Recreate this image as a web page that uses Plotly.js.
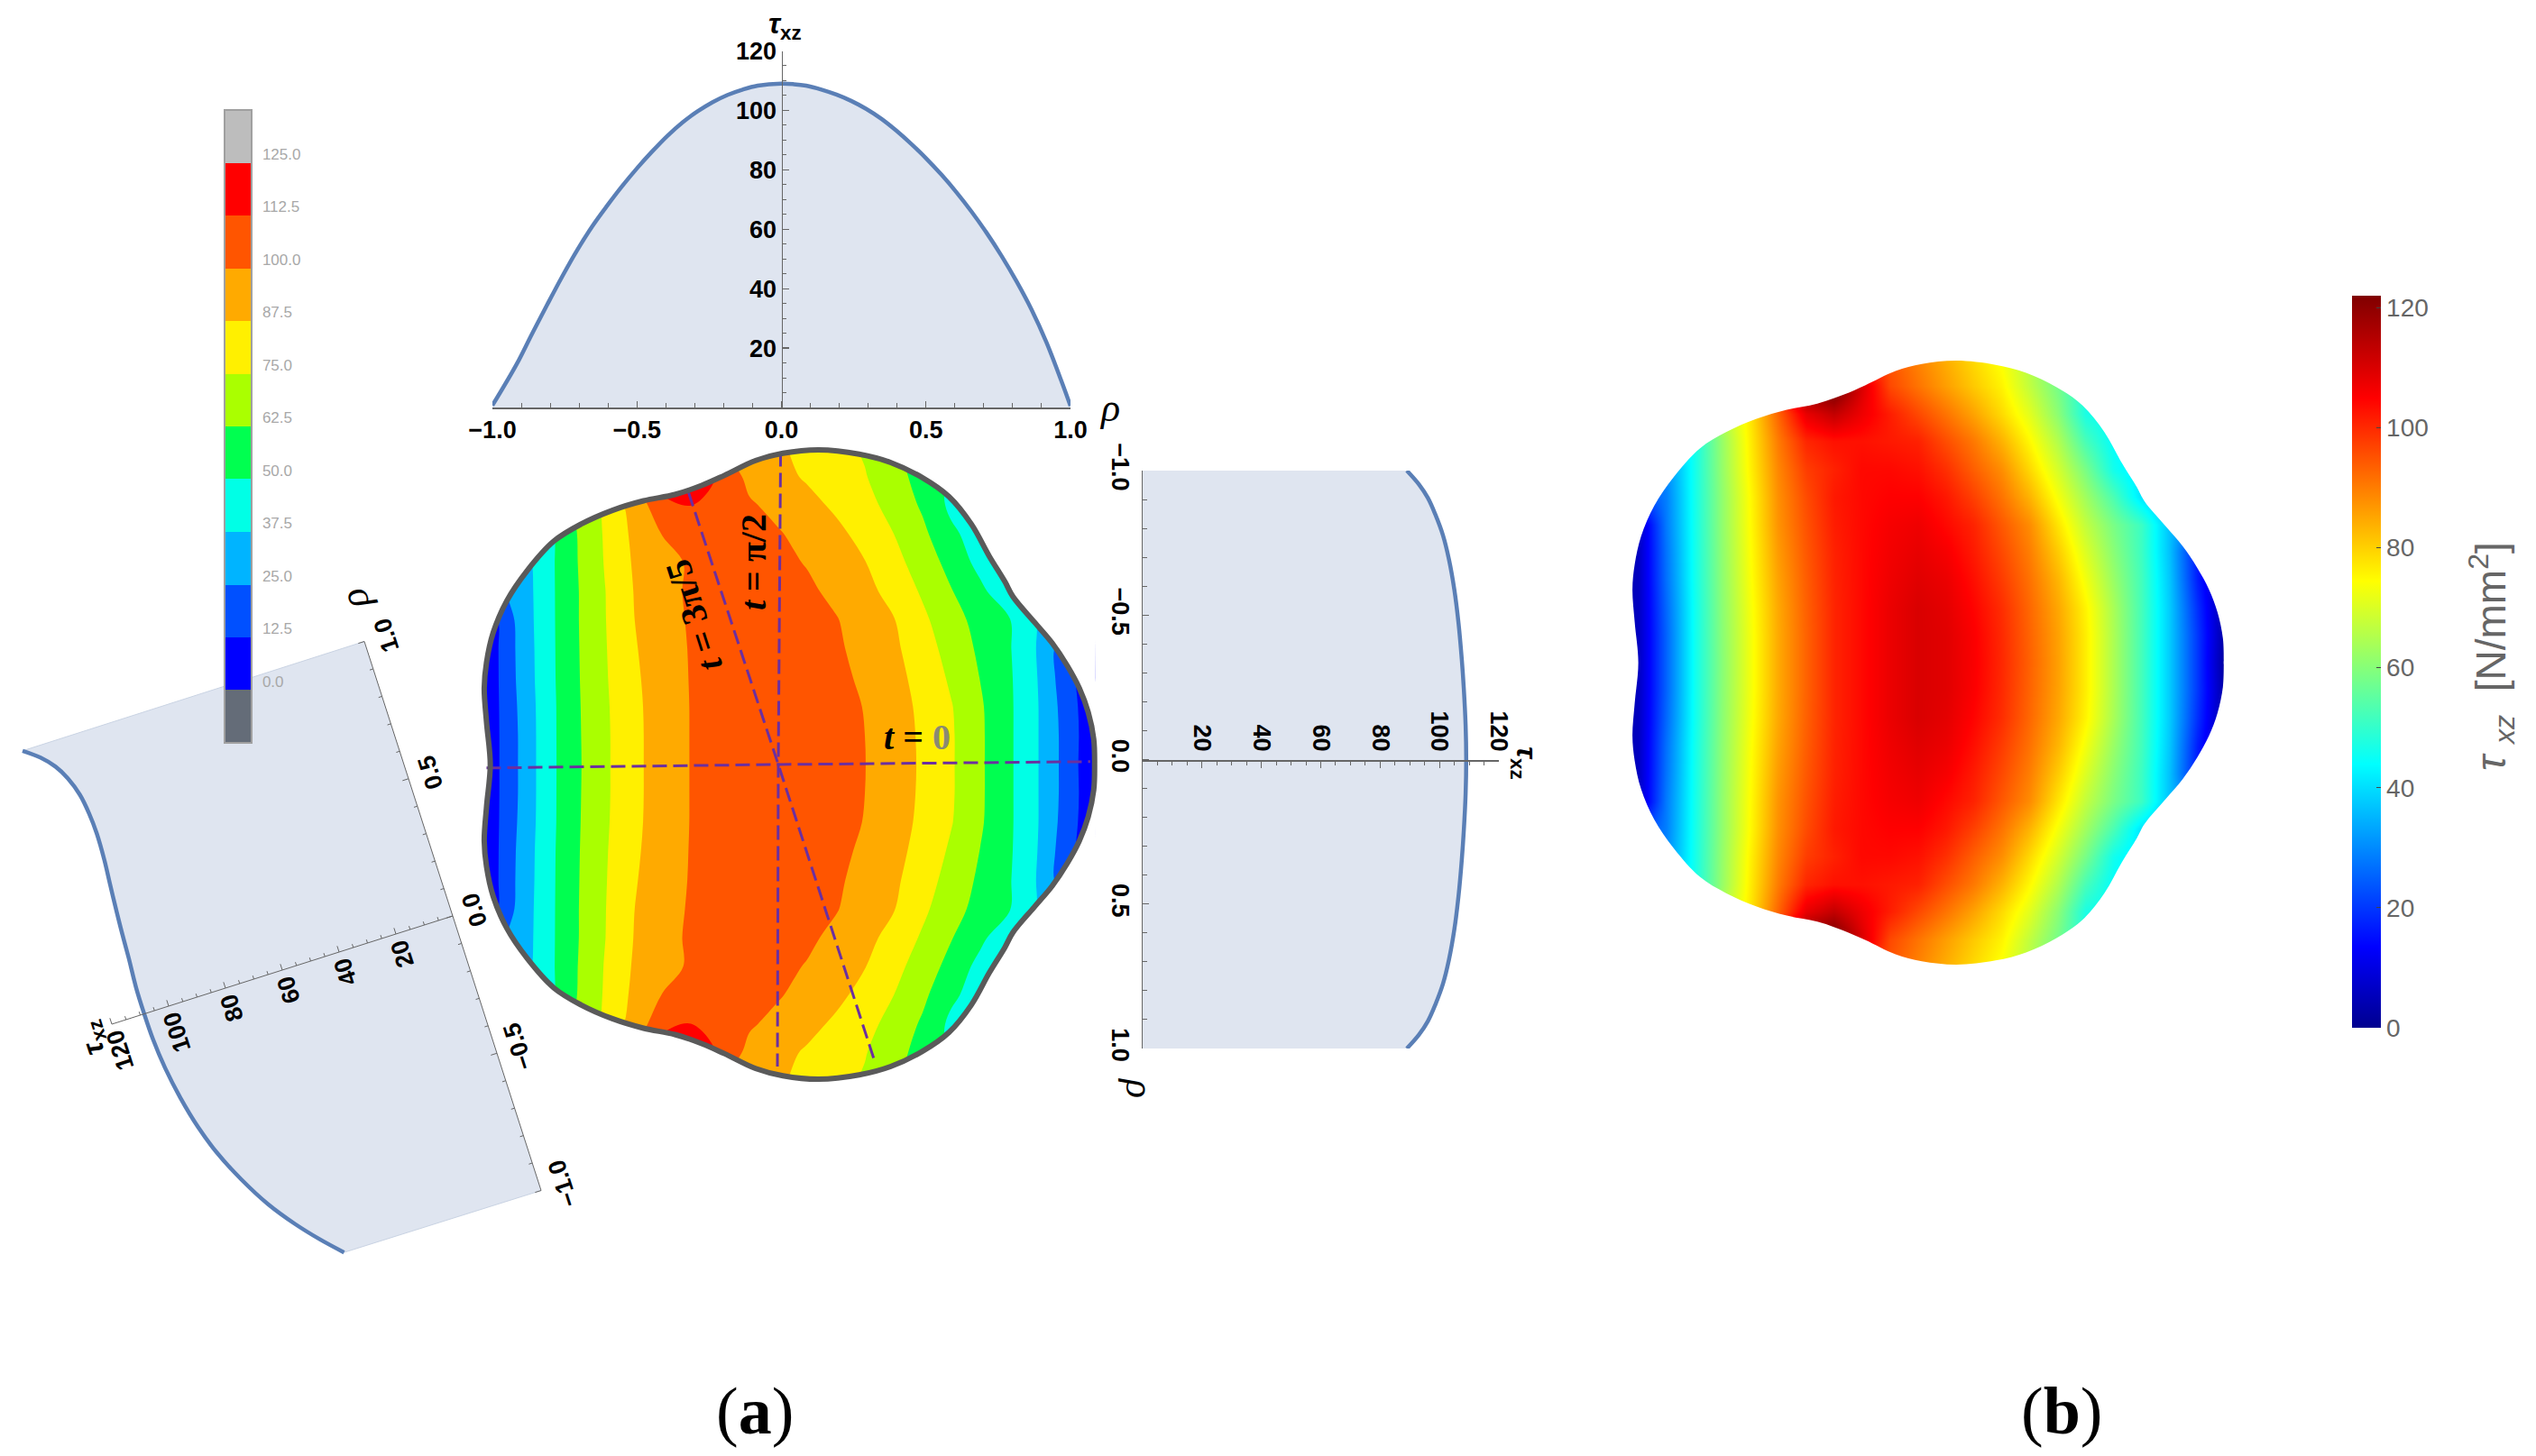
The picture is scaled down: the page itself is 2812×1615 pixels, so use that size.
<!DOCTYPE html>
<html>
<head>
<meta charset="utf-8">
<script src="https://cdn.plot.ly/plotly-3.0.1.min.js"></script>
<style>html,body{margin:0;padding:0;background:#fff}</style>
</head>
<body>
<div id="chart" style="width:2812px;height:1615px"></div>
<script>
// ---------- data ----------
var rhoTop = [-1,-0.916,-0.864,-0.811,-0.759,-0.707,-0.655,-0.603,-0.551,-0.499,-0.447,-0.395,-0.343,-0.291,-0.239,-0.186,-0.134,-0.082,0,0.043,0.085,0.138,0.19,0.241,0.293,0.345,0.397,0.449,0.501,0.553,0.605,0.657,0.709,0.761,0.813,0.865,0.917,0.969,1];
var tauTop = [0.7,14.6,24.6,34.5,44,52.9,60.9,67.9,74.5,80.6,86.2,91.4,95.9,99.6,102.7,105.2,107,108.3,109,108.8,108.3,107,105.3,103.2,100.5,97.2,93.2,88.7,83.8,78.4,72.5,66,58.9,51.1,42.5,33,21.9,8.8,0.5];

var rhoRight = [-1,-0.952,-0.905,-0.848,-0.775,-0.692,-0.588,-0.473,-0.348,-0.244,-0.119,0,0.119,0.244,0.348,0.473,0.588,0.692,0.775,0.848,0.905,0.952,1];
var tauRight = [89,93.1,96.1,98.6,101.2,103.2,105,106.4,107.5,108.2,108.8,109,108.8,108.2,107.5,106.4,105,103.2,101.2,98.6,96.1,93.1,89];

var rhoLeft = [0.997,0.956,0.91,0.859,0.791,0.721,0.647,0.551,0.462,0.368,0.285,0.202,0.095,0.004,-0.093,-0.2,-0.314,-0.432,-0.534,-0.647,-0.759,-0.853,-0.928,-0.998];
var tauLeft = [120.4,115.4,111.5,108.8,106.6,105.6,105.2,105.5,106.2,106.9,107.4,107.8,108.5,108.6,108.4,107.5,105.7,103,99.7,94.7,88.6,82,75.8,69.3];

var rhoTicks = [-1,-0.5,0,0.5,1];
var rhoLabels = ['−1.0','−0.5','0.0','0.5','1.0'];
var rhoMinor = [-0.9,-0.8,-0.7,-0.6,-0.4,-0.3,-0.2,-0.1,0.1,0.2,0.3,0.4,0.6,0.7,0.8,0.9];
var tauTicks = [20,40,60,80,100,120];
var tauMinor = [5,10,15,25,30,35,45,50,55,65,70,75,85,90,95,105,110,115];

// stress over the section: columns at xGrid, rows at yHalf (mirrored below y = 0)
var xGrid = [-1.1,-1,-0.9,-0.8,-0.7,-0.6,-0.5,-0.4,-0.3,-0.2,-0.1,0,0.1,0.2,0.3,0.4,0.5,0.6,0.7,0.8,0.9,1,1.1];
var yHalf = [0,0.1,0.2,0.3,0.4,0.5,0.6,0.7,0.8,0.9,1,1.1];
var zRow0 = [2,6,25.4,45.3,60.2,72.9,84.6,93.2,100.6,104,107.5,110,109,105.5,100.2,93.3,85.9,76.3,64.4,52.1,37.8,20,1];
var zRow1 = [2,6,25.4,45.3,60.4,72.9,84.6,93.2,100.6,104,107.5,110,109,105.3,100,93,85.7,76.3,64.4,52.1,37.8,20,2];
var zRow2 = [2,6,26,45.3,60.6,73.2,84.8,93.4,100.6,104,107.5,110,108.5,104.5,99.5,92.5,85,75.6,64,52.1,37.8,19,2];
var zRow3 = [2,6,27,45.7,60.9,73.8,85.5,93.8,100.8,104,107,109,107.5,103.2,97.8,91.3,83.3,73,62.2,51.8,37.2,16.8,2];
var zRow4 = [2,6,27.4,45.8,61.1,74.2,86.4,94.4,101,104,106.5,108,106,101.8,96.2,89.8,80.7,70.2,60.3,51.1,36.5,16,2];
var zRow5 = [2,6,28.2,45.9,61.3,74.6,87.3,95.1,101.5,104,106,107,104,100.7,94.4,88.1,77.6,67.1,58.4,50.9,36.6,25,5];
var zRow6 = [10,20,28.7,46,61.3,74.8,87.8,95.9,102,104,105,105,102.2,97.2,91.1,83.4,73.4,63.1,52.9,40.7,34,25,10];
var zRow7 = [10,20,30,46,61.8,75.8,88.8,97.6,101,104,104,103,99.3,93.5,87.9,78.9,69.3,58.3,46,40,33,25,10];
var zRow8 = [15,25,35,46,62,76.4,90.2,100.4,103,103,102,101,95.7,90.4,83.6,75,65.2,52.4,44,40,33,25,10];
var zRow9 = [30,35,40,50,65,77.2,92.9,108,113,107,101.5,96.3,91.1,85.4,78.8,70.9,60.7,47,44,40,33,25,15];
var zRow10 = [30,35,40,50,65,85,100,122,125,110,96.3,91.1,86,80.8,75.7,66.9,58,47,44,40,33,25,15];
var zRow11 = [30,35,40,50,65,85,100,122,125,100,94.5,89.1,84,78.7,73.5,65,55,47,44,40,33,25,15];

// upper half of the section outline, from t = 0 to t = pi
var outlineX = [1.096,1.093,1.074,1.043,1.001,0.949,0.887,0.813,0.785,0.731,0.669,0.591,0.498,0.389,0.28,0.14,0.016,-0.078,-0.187,-0.264,-0.358,-0.467,-0.575,-0.684,-0.778,-0.871,-0.941,-0.988,-1.011,-1.019,-1.011,-0.998];
var outlineY = [0,0.088,0.181,0.265,0.343,0.421,0.494,0.582,0.634,0.722,0.833,0.929,0.995,1.047,1.076,1.091,1.079,1.054,1.002,0.968,0.936,0.914,0.881,0.833,0.774,0.671,0.567,0.457,0.354,0.265,0.147,0];

// dashed section lines
var rayT0X = [-1.011,0,1.081];      var rayT0Y = [-0.012,0,0.01];
var rayHalfX = [0.008,0,-0.003];    var rayHalfY = [1.083,0,-1.047];
var ray35X = [-0.311,0,0.334];      var ray35Y = [0.943,0,-1.029];

// discrete legend of panel (a)
var levelValues = [0,12.5,25,37.5,50,62.5,75,87.5,100,112.5,125];
var levelLabels = ['0.0','12.5','25.0','37.5','50.0','62.5','75.0','87.5','100.0','112.5','125.0'];
var bandColors = ['#646c78','#0000ff','#0050ff','#00b4ff','#00ffe6','#00ff50','#aaff00','#fff000','#ffaa00','#ff5500','#ff0000','#bdbdbd'];

// ---------- layout helpers ----------
var W = 2812, H = 1615;
function fx(p){return p/W;}
function fy(p){return 1-p/H;}
var FILL='#dfe5f0', CURVE='#5a7fb6', AXC='#666666', SANS='"Liberation Sans",Arial,sans-serif', SERIF='"Liberation Serif",serif';
var tickFont={family:SANS,size:27,color:'#000',weight:600};

// full section field
var zRows=[zRow0,zRow1,zRow2,zRow3,zRow4,zRow5,zRow6,zRow7,zRow8,zRow9,zRow10,zRow11];
var yGrid=yHalf.slice(1).reverse().map(function(v){return -v;}).concat(yHalf);
var zGrid=zRows.slice(1).reverse().concat(zRows);

// closed outline, and a white keyhole mask round it (hole wound against the rectangle)
var closedX=outlineX.concat(outlineX.slice(0,-1).reverse());
var closedY=outlineY.concat(outlineY.slice(0,-1).reverse().map(function(v){return -v;}));
var holeX=closedX.slice().reverse(), holeY=closedY.slice().reverse();
var seam=0.008;
function keyholeX(M){var e=0.01;return [M,M,M,M-e,-M+e,-M,-M,-M,-M,-M+e,M-e,M,M,M,holeX[0]+0.01,holeX[0],holeX[0]]
  .concat(holeX.slice(1,-1)).concat([holeX[0],holeX[0],holeX[0]+0.01,M]);}
function keyholeY(M){var e=0.01;return [0,M-e,M,M,M,M,M-e,-M+e,-M,-M,-M,-M,-M+e,0,0,0,-seam]
  .concat(holeY.slice(1,-1)).concat([seam,0,0,0]);}
function maskTrace(M,xa,ya){return {x:keyholeX(M),y:keyholeY(M),xaxis:xa,yaxis:ya,mode:'lines',line:{width:0,color:'#fff',shape:'spline',simplify:false},fill:'toself',fillcolor:'#fff',hoverinfo:'skip',showlegend:false};}

// left (rotated) panel: page position of (rho, tau)
var L0=[502,1016], LR=[-98,-304.5], LT=[-3.15,1.0], LANG=-107.8;
function lx(r,t){return L0[0]+r*LR[0]+t*LT[0];}
function ly(r,t){return L0[1]+r*LR[1]+t*LT[1];}
var lTickX=[],lTickY=[];
function lRhoTick(r,len){var n=len/3.3;lTickX.push(lx(r,0),lx(r,n),null);lTickY.push(ly(r,0),ly(r,n),null);}
function lTauTick(t,len){var n=len/320;lTickX.push(lx(0,t),lx(n,t),null);lTickY.push(ly(0,t),ly(n,t),null);}
rhoTicks.forEach(function(r){lRhoTick(r,7);});
rhoMinor.forEach(function(r){lRhoTick(r,4);});
tauTicks.forEach(function(t){lTauTick(t,7);});
tauMinor.forEach(function(t){lTauTick(t,4);});
var leftCurveX=rhoLeft.map(function(r,i){return lx(r,tauLeft[i]);});
var leftCurveY=rhoLeft.map(function(r,i){return ly(r,tauLeft[i]);});

// stepped scale for the legend of (a): one equal step per band
var stepScale=[];
bandColors.forEach(function(c,i){stepScale.push([i/bandColors.length,c],[(i+1)/bandColors.length,c]);});

var traces=[
 // top panel
 {x:rhoTop,y:tauTop,xaxis:'x',yaxis:'y',mode:'lines',line:{color:CURVE,width:4.5,shape:'spline'},fill:'tozeroy',fillcolor:FILL,hoverinfo:'skip',cliponaxis:false},
 // right panel
 {x:tauRight,y:rhoRight,xaxis:'x2',yaxis:'y2',mode:'lines',line:{color:CURVE,width:4.5,shape:'spline'},fill:'tozerox',fillcolor:FILL,hoverinfo:'skip',cliponaxis:true},
 // legend carrier of (a): a central cell of the field, lying under the contours
 {type:'heatmap',x:[-0.05,0.05],y:[-0.05,0.05],z:[[zRow0[11],zRow0[11]],[zRow0[11],zRow0[11]]],xaxis:'x3',yaxis:'y3',zmin:-12.5,zmax:137.5,colorscale:stepScale,
  colorbar:{x:fx(249),xanchor:'left',xpad:0,ypad:0,y:fy(824),yanchor:'bottom',lenmode:'pixels',len:702,thicknessmode:'pixels',thickness:30,
    tickmode:'array',tickvals:levelValues.map(function(v){return v+2.1;}),ticktext:levelLabels,ticks:'outside',ticklen:8,tickcolor:'rgba(0,0,0,0)',
    tickfont:{family:SANS,size:17,color:'#a8a8a8'},outlinecolor:'#a0a0a0',outlinewidth:2,borderwidth:0},
  hoverinfo:'skip'},
 // panel (a) contours
 {type:'contour',x:xGrid,y:yGrid,z:zGrid,xaxis:'x3',yaxis:'y3',autocontour:false,showscale:false,
  contours:{start:0,end:125,size:12.5,coloring:'fill',showlines:false},line:{width:0},
  colorscale:bandColors.map(function(c,i){return [i/(bandColors.length-1),c];}),
  hoverinfo:'skip'},
 maskTrace(1.105,'x3','y3'),
 {x:rayT0X,y:rayT0Y,xaxis:'x3',yaxis:'y3',mode:'lines',line:{color:'#6b2fa0',width:3,dash:'16px,7px'},hoverinfo:'skip'},
 {x:rayHalfX,y:rayHalfY,xaxis:'x3',yaxis:'y3',mode:'lines',line:{color:'#6b2fa0',width:3,dash:'16px,7px'},hoverinfo:'skip'},
 {x:ray35X,y:ray35Y,xaxis:'x3',yaxis:'y3',mode:'lines',line:{color:'#6b2fa0',width:3,dash:'16px,7px'},hoverinfo:'skip'},
 {x:closedX,y:closedY,xaxis:'x3',yaxis:'y3',mode:'lines',line:{color:'#5a5a5a',width:6,shape:'spline'},hoverinfo:'skip'},
 // left rotated panel
 {x:[lx(1,0)].concat(leftCurveX).concat([lx(-1,0)]),y:[ly(1,0)].concat(leftCurveY).concat([ly(-1,0)]),xaxis:'x4',yaxis:'y4',mode:'lines',
  line:{color:'#c9d3e3',width:1},fill:'toself',fillcolor:FILL,hoverinfo:'skip'},
 {x:leftCurveX,y:leftCurveY,xaxis:'x4',yaxis:'y4',mode:'lines',line:{color:CURVE,width:4.5,shape:'spline'},hoverinfo:'skip'},
 {x:[lx(0,0),lx(0,120)],y:[ly(0,0),ly(0,120)],xaxis:'x4',yaxis:'y4',mode:'lines',line:{color:AXC,width:1},hoverinfo:'skip'},
 {x:[lx(1,0),lx(-1,0)],y:[ly(1,0),ly(-1,0)],xaxis:'x4',yaxis:'y4',mode:'lines',line:{color:AXC,width:1},hoverinfo:'skip'},
 {x:lTickX,y:lTickY,xaxis:'x4',yaxis:'y4',mode:'lines',line:{color:AXC,width:1},hoverinfo:'skip'},
 // panel (b)
 {type:'heatmap',x:xGrid,y:yGrid,z:zGrid,xaxis:'x5',yaxis:'y5',zmin:0,zmax:122,zsmooth:'best',
  colorscale:[[0,'#00008f'],[0.11,'#0000ff'],[0.36,'#00ffff'],[0.61,'#ffff00'],[0.86,'#ff0000'],[1,'#800000']],
  colorbar:{x:fx(2608),xanchor:'left',xpad:0,ypad:0,y:fy(1140),yanchor:'bottom',lenmode:'pixels',len:812,thicknessmode:'pixels',thickness:32,
    tickmode:'array',tickvals:[0,20,40,60,80,100,120],ticks:'inside',ticklen:5,tickcolor:'#444',
    tickfont:{family:SANS,size:28,color:'#666'},outlinewidth:0,borderwidth:0},
  hoverinfo:'skip'},
 maskTrace(1.19,'x5','y5')
];

function ann(text,x,y,size,angle,extra){
  var a={text:text,x:x,y:y,xref:'x4',yref:'y4',showarrow:false,xanchor:'center',yanchor:'middle',textangle:angle||0,
    font:{family:SANS,size:size,color:'#000'}};
  for(var k in extra||{}){a[k]=extra[k];}
  return a;
}
var annotations=[];
// left panel tick labels
rhoTicks.forEach(function(r,i){
  annotations.push(ann(rhoLabels[i],lx(r,0)+24,ly(r,0)-7,27,LANG,{font:tickFont}));
});
tauTicks.forEach(function(t){
  var off=(8+String(t).length*7.5)/320;
  annotations.push(ann(String(t),lx(-off,t),ly(-off,t),27,LANG,{font:tickFont}));
});
var txzHtml='<i>τ</i><sub><b>xz</b></sub>';
var txzFont={family:SANS,size:32,color:'#000',weight:600};
var rhoFont={family:SERIF,size:44,color:'#000'};
annotations.push(ann('<i>ρ</i>',393,666,44,LANG,{font:rhoFont}));
annotations.push(ann(txzHtml,102,1152,32,LANG,{font:txzFont}));
// top panel titles
annotations.push(ann(txzHtml,870,28,32,0,{font:txzFont}));
annotations.push(ann('<i>ρ</i>',1230,452,44,0,{font:rhoFont}));
// right panel titles
annotations.push(ann(txzHtml,1691,846,32,90,{font:txzFont}));
annotations.push(ann('<i>ρ</i>',1264,1206,44,90,{font:rhoFont}));
// section labels
var lab={family:SERIF,size:40,color:'#000',weight:700};
annotations.push(ann('<i>t</i> = <span style="color:#8a8a72">0</span>',1017,817,40,0,{font:lab}));
annotations.push(ann('<i>t</i> = π/2',835,624,40,-90,{font:lab}));
annotations.push(ann('<i>t</i> = 3π/5',769,683,40,LANG,{font:lab}));
// panel letters
annotations.push(ann('(<b>a</b>)',837,1565,74,0,{font:{family:SERIF,size:74,color:'#000'}}));
annotations.push(ann('(<b>b</b>)',2286,1565,74,0,{font:{family:SERIF,size:74,color:'#000'}}));
// colour bar title of (b)
annotations.push(ann('<i>τ</i> <sub><i>xz</i></sub>  [N/mm<sup>2</sup>]',2762,728,46,-90,{font:{family:SANS,size:46,color:'#666'}}));

var off={visible:false,showgrid:false,zeroline:false,fixedrange:true};
var layout={
  width:W,height:H,margin:{l:0,r:0,t:0,b:0},paper_bgcolor:'#fff',plot_bgcolor:'rgba(0,0,0,0)',showlegend:false,annotations:annotations,
  // top
  xaxis:{domain:[fx(546),fx(1187)],range:[-1,1],anchor:'y',side:'bottom',tickmode:'array',tickvals:rhoTicks,ticktext:rhoLabels,
    ticks:'inside',ticklen:7,tickwidth:1.2,tickcolor:AXC,showline:true,linecolor:AXC,linewidth:1.5,showgrid:false,zeroline:false,tickfont:tickFont,
    minor:{tickmode:'array',tickvals:rhoMinor,ticks:'inside',ticklen:5,tickcolor:AXC,tickwidth:1,showgrid:false}},
  yaxis:{domain:[fy(452),fy(56.5)],range:[0,120],anchor:'free',position:fx(866.5),side:'left',tickmode:'array',tickvals:tauTicks,
    ticks:'inside',ticklen:7,tickwidth:1.2,tickcolor:AXC,showline:true,linecolor:AXC,linewidth:1.5,showgrid:false,zeroline:false,tickfont:tickFont,
    minor:{tickmode:'array',tickvals:tauMinor,ticks:'inside',ticklen:4,tickcolor:AXC,tickwidth:1,showgrid:false}},
  // right
  xaxis2:{domain:[fx(1267),fx(1662)],range:[0,120],anchor:'free',position:fy(843),side:'top',tickmode:'array',tickvals:tauTicks,tickangle:90,
    ticks:'inside',ticklen:7,tickwidth:1.2,tickcolor:AXC,showline:true,linecolor:AXC,linewidth:1.5,showgrid:false,zeroline:false,tickfont:tickFont,
    minor:{tickmode:'array',tickvals:tauMinor,ticks:'inside',ticklen:4,tickcolor:AXC,tickwidth:1,showgrid:false}},
  yaxis2:{domain:[fy(1163),fy(522)],range:[1,-1],anchor:'x2',side:'left',tickmode:'array',tickvals:rhoTicks,ticktext:rhoLabels,tickangle:90,
    ticks:'inside',ticklen:7,tickwidth:1.2,tickcolor:AXC,showline:true,linecolor:AXC,linewidth:1.5,showgrid:false,zeroline:false,tickfont:tickFont,
    minor:{tickmode:'array',tickvals:rhoMinor,ticks:'inside',ticklen:5,tickcolor:AXC,tickwidth:1,showgrid:false}},
  // main section: 320 px per unit, centred at (863, 848)
  xaxis3:Object.assign({domain:[fx(863-416),fx(863+416)],range:[-1.3,1.3],anchor:'y3'},off),
  yaxis3:Object.assign({domain:[fy(848+416),fy(848-416)],range:[-1.3,1.3],anchor:'x3'},off),
  // page coordinates for the rotated panel and the free text
  xaxis4:Object.assign({domain:[0,1],range:[0,W],anchor:'y4'},off),
  yaxis4:Object.assign({domain:[0,1],range:[H,0],anchor:'x4'},off),
  // panel (b)
  xaxis5:Object.assign({domain:[fx(2126-372),fx(2126+372)],range:[-1.2,1.2],anchor:'y5'},off),
  yaxis5:Object.assign({domain:[fy(735+368.4),fy(735-368.4)],range:[-1.2,1.2],anchor:'x5'},off)
};
Plotly.newPlot('chart',traces,layout,{displayModeBar:false,staticPlot:true});
</script>
</body>
</html>
